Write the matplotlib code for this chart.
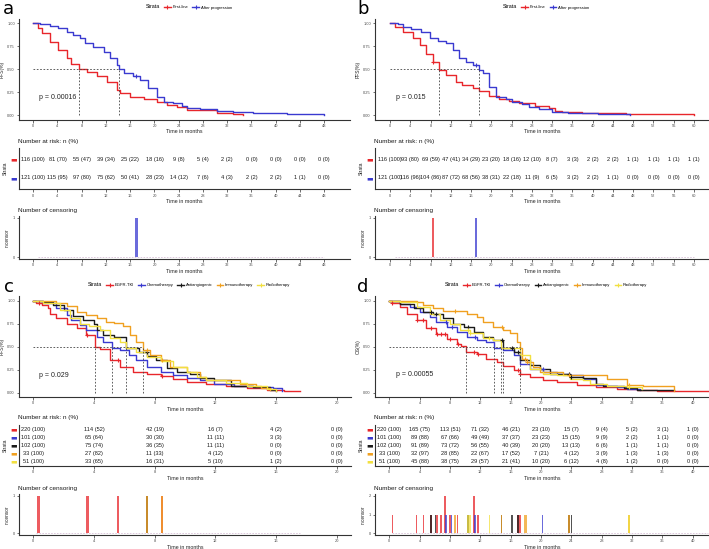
import numpy as np
import matplotlib
matplotlib.use('Agg')
import matplotlib.pyplot as plt
from matplotlib.lines import Line2D

plt.rcParams['font.family'] = ['Liberation Sans', 'DejaVu Sans']

# ---------------- data ----------------
STRATA_AB = ['First-line', 'After progression']
STRATA_CD = ['EGFR-TKI', 'Chemotherapy', 'Antiangiogenic', 'Immunotherapy', 'Radiotherapy']
COL_AB = ['#E8262B', '#3A3AD0']
COL_CD = ['#E8262B', '#3A3AD0', '#1A1A1A', '#F0A020', '#F2E040']

# Panel a (PFS)
A_t_first = [0, 0.8, 1.4, 2.75, 4.1, 5.5, 6.3, 7.5, 8.8, 10.5, 12.1, 13.8, 14.3, 16, 18.2, 20.4, 22, 23.7, 25.3, 27.5, 30.3, 33, 34.6]
A_s_first = [1.0, 0.95, 0.89, 0.8, 0.71, 0.62, 0.56, 0.5, 0.47, 0.42, 0.36, 0.27, 0.24, 0.2, 0.17, 0.145, 0.11, 0.085, 0.06, 0.055, 0.025, 0.01, 0.005]
A_t_after = [0, 1.1, 2.75, 4.1, 5.5, 6.6, 7.7, 8.5, 9.9, 11.6, 12.7, 13.8, 14.2, 14.9, 16.5, 17.6, 19, 20.4, 21.5, 23.1, 24.5, 25.3, 27.5, 30.3, 33, 36.3, 41.8, 48]
A_s_after = [1.0, 0.99, 0.975, 0.945, 0.91, 0.87, 0.84, 0.78, 0.745, 0.69, 0.62, 0.545, 0.5, 0.455, 0.42, 0.38, 0.29, 0.2, 0.145, 0.127, 0.1, 0.073, 0.062, 0.045, 0.03, 0.018, 0.007, 0.005]
A_medians = [7.5, 14.2]
A_pval = 'p = 0.00016'
A_breaks = [0, 4, 8, 12, 16, 20, 24, 28, 32, 36, 40, 44, 48]
A_risk_n_first = [116, 81, 55, 39, 25, 18, 9, 5, 2, 0, 0, 0, 0]
A_risk_p_first = [100, 70, 47, 34, 22, 16, 8, 4, 2, 0, 0, 0, 0]
A_risk_n_after = [121, 115, 97, 75, 50, 28, 14, 7, 4, 2, 2, 1, 0]
A_risk_p_after = [100, 95, 80, 62, 41, 23, 12, 6, 3, 2, 2, 1, 0]
A_cens_t = [17.0]
A_cens_n = [1]
A_cens_g = [1]

# Panel b (PFS)
B_t_first = [0, 1, 2.6, 4.6, 5.9, 7.2, 8.5, 9.7, 11.1, 13, 14.3, 16.3, 17.6, 19.6, 21.5, 23.5, 25.4, 28.7, 31.3, 32.6, 33.9, 37.8, 46.6, 60]
B_s_first = [1.0, 0.96, 0.91, 0.84, 0.76, 0.67, 0.58, 0.49, 0.44, 0.36, 0.33, 0.29, 0.265, 0.21, 0.18, 0.153, 0.127, 0.098, 0.073, 0.047, 0.036, 0.025, 0.01, 0.005]
B_t_after = [0, 1.5, 2.6, 4.2, 6.2, 7.8, 9.5, 11.1, 12.4, 13.7, 15, 16.3, 17.6, 18.3, 19.6, 20.9, 22.8, 24.1, 26.1, 27.4, 29.4, 32, 35.2, 41.1, 47.3]
B_s_after = [1.0, 0.99, 0.96, 0.935, 0.91, 0.84, 0.81, 0.78, 0.71, 0.62, 0.58, 0.55, 0.49, 0.455, 0.31, 0.2, 0.18, 0.145, 0.12, 0.084, 0.062, 0.036, 0.018, 0.01, 0.005]
B_medians = [9.7, 17.6]
B_pval = 'p = 0.015'
B_breaks = [0, 4, 8, 12, 16, 20, 24, 28, 32, 36, 40, 44, 48, 52, 56, 60]
B_risk_n_first = [116, 93, 69, 47, 34, 23, 18, 12, 8, 3, 2, 2, 1, 1, 1, 1]
B_risk_p_first = [100, 80, 59, 41, 29, 20, 16, 10, 7, 3, 2, 2, 1, 1, 1, 1]
B_risk_n_after = [121, 116, 104, 87, 68, 38, 22, 11, 6, 3, 2, 1, 0, 0, 0, 0]
B_risk_p_after = [100, 96, 86, 72, 56, 31, 18, 9, 5, 2, 2, 1, 0, 0, 0, 0]
B_cens_t = [8.5, 17.0]
B_cens_n = [1, 1]
B_cens_g = [0, 1]

# Panel c (PFS, 5 strata)
C_t_egfr = [0, 0.2, 0.55, 1.0, 1.1, 1.5, 2.2, 2.9, 3.5, 4.1, 4.4, 5.05, 5.7, 6.6, 7.5, 8.4, 9.2, 10.1, 11.4, 12.7, 14.1, 15.4, 16.5, 17.6]
C_s_egfr = [1.0, 0.98, 0.95, 0.92, 0.86, 0.81, 0.75, 0.70, 0.63, 0.5, 0.47, 0.355, 0.28, 0.23, 0.2, 0.18, 0.15, 0.12, 0.10, 0.072, 0.047, 0.03, 0.018, 0.014]
C_t_chemo = [0, 0.66, 1.5, 2.2, 2.5, 3.1, 3.5, 4.2, 4.6, 5.2, 5.7, 6.3, 6.8, 7.5, 8.4, 9.2, 10.1, 11, 11.9, 13.2, 14.5, 15.8, 16.4]
C_s_chemo = [1.0, 0.97, 0.92, 0.84, 0.79, 0.735, 0.68, 0.61, 0.555, 0.49, 0.46, 0.41, 0.355, 0.28, 0.23, 0.19, 0.155, 0.14, 0.1, 0.072, 0.058, 0.047, 0.018]
C_t_anti = [0, 0.66, 1.3, 2.0, 2.6, 3.3, 4.0, 4.2, 4.6, 5.3, 6.1, 7.0, 7.5, 8.1, 8.8, 9.5, 10.3, 11, 11.9, 13, 14.5, 15.6, 16]
C_s_anti = [1.0, 0.99, 0.95, 0.9, 0.83, 0.79, 0.75, 0.68, 0.63, 0.61, 0.49, 0.445, 0.4, 0.355, 0.265, 0.23, 0.2, 0.155, 0.14, 0.072, 0.065, 0.03, 0.02]
C_t_immuno = [0, 1.5, 2.2, 2.9, 3.5, 4.2, 4.8, 5.3, 5.9, 6.4, 6.8, 7.2, 7.7, 8.4, 9.0, 10.1, 11, 11.4, 13.6, 14.7, 15, 15.6]
C_s_immuno = [1.0, 0.97, 0.94, 0.88, 0.845, 0.81, 0.77, 0.76, 0.72, 0.63, 0.555, 0.46, 0.41, 0.355, 0.28, 0.23, 0.174, 0.14, 0.1, 0.072, 0.047, 0.03]
C_t_radio = [0, 0.66, 1.75, 2.4, 3.1, 3.7, 4.4, 5.05, 5.7, 6.1, 6.8, 7.5, 8.4, 9.2, 10.1, 10.8, 11.4, 12.7, 14.1, 15.4, 16]
C_s_radio = [1.0, 0.98, 0.9, 0.81, 0.75, 0.72, 0.68, 0.6, 0.555, 0.49, 0.445, 0.385, 0.34, 0.275, 0.23, 0.174, 0.14, 0.11, 0.072, 0.036, 0.02]
C_medians = [4.1, 5.2, 6.1, 7.2]
C_pval = 'p = 0.029'
C_breaks = [0, 4, 8, 12, 16, 20]
C_risk_n = [[220, 114, 42, 16, 4, 0], [101, 65, 30, 11, 3, 0], [102, 75, 36, 11, 0, 0], [33, 27, 11, 4, 0, 0], [51, 33, 16, 5, 1, 0]]
C_risk_p = [[100, 52, 19, 7, 2, 0], [100, 64, 30, 11, 3, 0], [100, 74, 35, 11, 0, 0], [100, 82, 33, 12, 0, 0], [100, 65, 31, 10, 2, 0]]
C_cens_t = [0.35, 3.57, 5.6, 7.48, 7.48, 8.49, 8.49]
C_cens_n = [1, 1, 1, 1, 1, 1, 1]
C_cens_g = [0, 0, 0, 2, 3, 0, 3]

# Panel d (OS, 5 strata)
D_t_egfr = [0, 0.3, 1.4, 2.3, 3.6, 4.9, 6.2, 7.6, 8.9, 9.5, 10.1, 11.5, 12.8, 14.2, 15, 16.4, 17.2, 18.5, 20.3, 22.1, 24.7, 27.3, 30, 32.6, 35.3, 38.8, 42]
D_s_egfr = [1.0, 0.98, 0.935, 0.86, 0.79, 0.70, 0.64, 0.58, 0.53, 0.51, 0.444, 0.42, 0.37, 0.335, 0.29, 0.245, 0.207, 0.17, 0.142, 0.116, 0.087, 0.062, 0.044, 0.025, 0.018, 0.015, 0.015]
D_t_chemo = [0, 1.4, 2.7, 4.0, 5.4, 6.2, 7.6, 8.9, 10.2, 11.5, 12.8, 13.8, 15, 16.4, 17.2, 18.5, 20.3, 22.1, 23.8, 25.6, 27.3, 28.7, 30, 31.3, 33]
D_s_chemo = [1.0, 0.96, 0.935, 0.88, 0.825, 0.77, 0.716, 0.66, 0.61, 0.57, 0.553, 0.49, 0.46, 0.41, 0.316, 0.26, 0.225, 0.2, 0.19, 0.153, 0.08, 0.07, 0.062, 0.044, 0.033]
D_t_anti = [0, 1.4, 3.2, 4.5, 5.8, 7.1, 8.4, 9.8, 11.1, 12.4, 13.7, 15.0, 16.4, 17.2, 18.5, 19.9, 21.2, 23.8, 25.6, 27.3, 28.2, 30.9, 32.6, 34.4, 37.5]
D_s_anti = [1.0, 0.96, 0.916, 0.88, 0.86, 0.81, 0.75, 0.716, 0.66, 0.61, 0.57, 0.49, 0.444, 0.353, 0.3, 0.26, 0.207, 0.17, 0.164, 0.1, 0.07, 0.055, 0.033, 0.025, 0.025]
D_t_immuno = [0, 3.6, 4.5, 5.8, 7.1, 10.2, 11.5, 12.4, 13.7, 15, 15.9, 16.8, 17.2, 17.5, 18.1, 19, 19.9, 22.9, 28.7, 31.3, 33.5, 37.5]
D_s_immuno = [1.0, 0.99, 0.953, 0.916, 0.89, 0.86, 0.825, 0.77, 0.716, 0.68, 0.644, 0.553, 0.49, 0.37, 0.335, 0.28, 0.225, 0.19, 0.153, 0.08, 0.07, 0.02]
D_t_radio = [0, 1.4, 3.6, 5.4, 6.7, 8.0, 9.3, 10.6, 12.4, 13.7, 14.7, 17.2, 18.5, 20.3, 22.1, 23.8, 25.6, 26.5, 28.7, 31.3, 33.3]
D_s_radio = [1.0, 0.99, 0.935, 0.86, 0.79, 0.75, 0.68, 0.644, 0.59, 0.57, 0.49, 0.41, 0.26, 0.207, 0.19, 0.153, 0.135, 0.1, 0.07, 0.062, 0.044]
D_medians = [10.1, 13.8, 14.7, 15.0, 17.2]
D_pval = 'p = 0.00055'
D_breaks = [0, 4, 8, 12, 16, 20, 24, 28, 32, 36, 40]
D_risk_n = [[220, 165, 113, 71, 46, 23, 15, 9, 5, 3, 1],
            [101, 89, 67, 49, 37, 23, 15, 9, 2, 1, 0],
            [102, 91, 73, 56, 40, 20, 13, 6, 1, 1, 0],
            [33, 32, 28, 22, 17, 7, 4, 3, 1, 1, 0],
            [51, 45, 38, 29, 21, 10, 6, 4, 1, 0, 0]]
D_risk_p = [[100, 75, 51, 32, 21, 10, 7, 4, 2, 1, 0],
            [100, 88, 66, 49, 37, 23, 15, 9, 2, 1, 0],
            [100, 89, 72, 55, 39, 20, 13, 6, 1, 1, 0],
            [100, 97, 85, 67, 52, 21, 12, 9, 3, 3, 0],
            [100, 88, 75, 57, 41, 20, 12, 8, 2, 0, 0]]
D_cens_t = [0.4, 3.6, 4.5, 5.5, 5.5, 6.1, 6.3, 6.8, 7.3, 7.5, 8.0, 8.2, 8.7, 9.0, 10.4, 10.4, 10.6, 11.2, 11.3, 11.7,
            13.2, 14.8, 14.8, 16.2, 17.0, 17.0, 17.2, 17.9, 18.1, 20.2, 23.7, 23.7, 24.0, 31.6, 31.6]
D_cens_n = [1, 1, 1, 1, 1, 1, 1, 1, 2, 1, 1, 1, 1, 1, 1, 1, 1, 2, 1, 1,
            1, 1, 1, 1, 1, 1, 1, 1, 1, 1, 1, 1, 1, 1, 1]
D_cens_g = [0, 0, 0, 0, 2, 2, 0, 0, 0, 1, 0, 1, 3, 0, 2, 4, 4, 0, 1, 0,
            4, 2, 3, 2, 0, 2, 0, 3, 3, 1, 2, 3, 2, 3, 4]

# ---------------- figure ----------------
W, H = 709, 549
fig = plt.figure(figsize=(W / 100, H / 100), dpi=100)
AX_COL = '#333333'
TICK_COL = '#4D4D4D'


def ax_px(l, t, r, b):
    return fig.add_axes([l / W, 1 - b / H, (r - l) / W, (b - t) / H])


def style(ax):
    for s in ['top', 'right']:
        ax.spines[s].set_visible(False)
    for s in ['left', 'bottom']:
        ax.spines[s].set_color(AX_COL)
        ax.spines[s].set_linewidth(0.8)
    ax.tick_params(length=1.8, width=0.5, color=AX_COL, labelsize=2.9,
                   labelcolor=TICK_COL, pad=1.2)


def step_val(t, s, x):
    i = np.searchsorted(t, x, side='right') - 1
    return s[max(i, 0)]


def draw_panel(L, R, km_tb, risk_tb, cen_tb, xlim, breaks, curves, names, colors,
               medians, pval, pval_xy, ylabel, risk_n, risk_p, cen_t, cen_n, cen_g,
               cen_w, cen_ymax, legend_y, letter, letter_xy):
    # KM plot
    ax = ax_px(L, km_tb[0], R, km_tb[1])
    style(ax)
    for (t, s), c in zip(curves, colors):
        ax.step(t, s, where='post', color=c, lw=1.0)
    for t0, g in zip(cen_t, cen_g):
        t, s = curves[g]
        ax.plot([t0], [step_val(t, s, t0)], marker='+', ms=3.5, mew=0.8,
                color=colors[g], ls='none')
    ax.plot([0, max(medians)], [0.5, 0.5], color='#444444', lw=0.6, ls=(0, (2, 2)))
    for m in medians:
        ax.plot([m, m], [0, 0.5], color='#444444', lw=0.6, ls=(0, (2, 2)))
    ax.text(pval_xy[0], pval_xy[1], pval, fontsize=5, color='#222222', va='center', ha='left')
    ax.set_xlim(*xlim)
    ax.set_ylim(-0.05, 1.05)
    ax.set_xticks(breaks)
    ax.set_yticks([0, 0.25, 0.5, 0.75, 1.0])
    ax.set_yticklabels(['0.00', '0.25', '0.50', '0.75', '1.00'])
    ax.set_xlabel('Time in months', fontsize=3.8, labelpad=1.2, color='#222222')
    ax.set_ylabel(ylabel, fontsize=3.6, labelpad=2, color='#222222')
    # legend
    handles = [Line2D([], [], ls='none')] + [
        Line2D([], [], color=c, lw=1.0, marker='+', ms=3, mew=0.8) for c in colors]
    leg = fig.legend(handles, ['Strata'] + names, loc='center',
                     bbox_to_anchor=((L + R) / 2 / W, 1 - legend_y / H),
                     ncol=len(names) + 1, frameon=False, fontsize=3.0,
                     handlelength=1.6, handletextpad=0.4, columnspacing=1.0,
                     borderpad=0, borderaxespad=0)
    leg.get_texts()[0].set_fontsize(3.8)
    fig.text(letter_xy[0] / W, 1 - letter_xy[1] / H, letter, fontsize=13,
             family='DejaVu Sans', va='baseline', ha='left')

    # risk table
    n = len(names)
    ax2 = ax_px(L, risk_tb[0], R, risk_tb[1])
    style(ax2)
    for i in range(n):
        y = n - i
        for b, k, p in zip(breaks, risk_n[i], risk_p[i]):
            ax2.text(b, y, f'{k} ({p})', fontsize=4.1, ha='center', va='center', color='#1A1A1A')
    ax2.set_xlim(*xlim)
    ax2.set_ylim(0.4, n + 0.6)
    ax2.set_xticks(breaks)
    ax2.set_yticks([n - i for i in range(n)])
    ax2.set_yticklabels(['\u25ac'] * n, family='DejaVu Sans', fontsize=5)
    for lab, c in zip(ax2.get_yticklabels(), colors):
        lab.set_color(c)
    ax2.tick_params(axis='y', length=0, pad=1.5)
    ax2.set_xlabel('Time in months', fontsize=3.8, labelpad=1.2, color='#222222')
    ax2.set_ylabel('Strata', fontsize=3.6, labelpad=1.5, color='#222222')
    fig.text((L - 1) / W, 1 - (risk_tb[0] - 6.5) / H, 'Number at risk: n (%)',
             fontsize=4.6, va='center', ha='left', color='#1A1A1A')

    # censoring plot
    ax3 = ax_px(L, cen_tb[0], R, cen_tb[1])
    style(ax3)
    all_t = [tt for (t, s) in curves for tt in t[1:]]
    ax3.plot([min(all_t), max(all_t)], [0, 0], color='#C8A8C8', lw=0.6, ls=(0, (2, 1.5)), alpha=0.7)
    for t0, k, g in zip(cen_t, cen_n, cen_g):
        ax3.bar(t0, k, width=cen_w, color=colors[g], alpha=0.75, lw=0)
    ax3.set_xlim(*xlim)
    ax3.set_ylim(-0.05 * cen_ymax, 1.05 * cen_ymax)
    ax3.set_xticks(breaks)
    ax3.set_yticks(list(range(cen_ymax + 1)))
    ax3.set_xlabel('Time in months', fontsize=3.8, labelpad=1.2, color='#222222')
    ax3.set_ylabel('n.censor', fontsize=3.4, labelpad=2, color='#222222')
    fig.text((L - 1) / W, 1 - (cen_tb[0] - 5.5) / H, 'Number of censoring',
             fontsize=4.6, va='center', ha='left', color='#1A1A1A')


TOP_KM, TOP_RISK, TOP_CEN = (18.7, 119.6), (147.6, 189.4), (216, 259)
BOT_KM, BOT_RISK, BOT_CEN = (296.1, 397.3), (424.5, 466.1), (493.8, 535.2)

draw_panel(19, 350, TOP_KM, TOP_RISK, TOP_CEN, (-2.35, 52.25), A_breaks,
           [(A_t_first, A_s_first), (A_t_after, A_s_after)], STRATA_AB, COL_AB,
           A_medians, A_pval, (1.0, 0.19), 'PFS(%)',
           [A_risk_n_first, A_risk_n_after], [A_risk_p_first, A_risk_p_after],
           A_cens_t, A_cens_n, A_cens_g, 0.5, 1, 7, 'a', (3, 14))

draw_panel(375, 709, TOP_KM, TOP_RISK, TOP_CEN, (-2.96, 62.96), B_breaks,
           [(B_t_first, B_s_first), (B_t_after, B_s_after)], STRATA_AB, COL_AB,
           B_medians, B_pval, (1.1, 0.19), 'PFS(%)',
           [B_risk_n_first, B_risk_n_after], [B_risk_p_first, B_risk_p_after],
           B_cens_t, B_cens_n, B_cens_g, 0.45, 1, 7, 'b', (357, 14))

draw_panel(19, 350.7, BOT_KM, BOT_RISK, BOT_CEN, (-0.94, 20.92), C_breaks,
           [(C_t_egfr, C_s_egfr), (C_t_chemo, C_s_chemo), (C_t_anti, C_s_anti),
            (C_t_immuno, C_s_immuno), (C_t_radio, C_s_radio)], STRATA_CD, COL_CD,
           C_medians, C_pval, (0.4, 0.19), 'PFS(%)', C_risk_n, C_risk_p,
           C_cens_t, C_cens_n, C_cens_g, 0.15, 1, 284.7, 'c', (4, 292))

draw_panel(375, 709, BOT_KM, BOT_RISK, BOT_CEN, (-1.89, 42.15), D_breaks,
           [(D_t_egfr, D_s_egfr), (D_t_chemo, D_s_chemo), (D_t_anti, D_s_anti),
            (D_t_immuno, D_s_immuno), (D_t_radio, D_s_radio)], STRATA_CD, COL_CD,
           D_medians, D_pval, (0.9, 0.2), 'OS(%)', D_risk_n, D_risk_p,
           D_cens_t, D_cens_n, D_cens_g, 0.22, 2, 284.7, 'd', (357, 292))

fig.savefig('out.png', dpi=100)
